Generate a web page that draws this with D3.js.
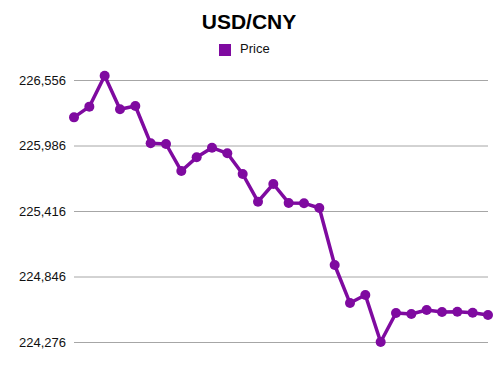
<!DOCTYPE html>
<html>
<head>
<meta charset="utf-8">
<script src="https://cdn.jsdelivr.net/npm/d3@7"></script>
<style>
  body { margin: 0; background: #fff; }
  svg { font-family: "Liberation Sans", Arial, sans-serif; }
</style>
</head>
<body>
<svg width="500" height="375"></svg>
<script>
// data
const days = d3.range(1, 29).map(String);
const price = [226231, 226324, 226593, 226301, 226330, 226005, 225999, 225764,
               225883, 225967, 225918, 225738, 225497, 225651, 225486, 225484,
               225442, 224946, 224615, 224685, 224276, 224528, 224520, 224554,
               224537, 224540, 224530, 224511];
const yTicks = [224276, 224846, 225416, 225986, 226556];

const color = "#7f0aa0";

const svg = d3.select("svg");

const x = d3.scalePoint()
    .domain(days)
    .range([74, 488]);

const y = d3.scaleLinear()
    .domain([224276, 226556])
    .range([342, 80]);

// gridlines + labels
const yAxis = svg.append("g")
    .attr("transform", "translate(74,0)")
    .call(d3.axisLeft(y).tickValues(yTicks).tickFormat(d3.format(",")).tickSize(-414).tickPadding(8));

yAxis.select(".domain").remove();
yAxis.selectAll(".tick line").attr("stroke", "#a6a6a6").attr("stroke-width", 1);
yAxis.selectAll(".tick text")
    .attr("fill", "#111")
    .style("font-size", "13px")
    .style("font-family", "'Liberation Sans', Arial, sans-serif");

const line = d3.line()
    .x((d, i) => x(days[i]))
    .y(d => y(d));

svg.append("path")
    .datum(price)
    .attr("fill", "none")
    .attr("stroke", color)
    .attr("stroke-width", 3.5)
    .attr("stroke-linejoin", "round")
    .attr("d", line);

svg.selectAll("circle.pt")
    .data(price)
    .enter()
    .append("circle")
    .attr("class", "pt")
    .attr("cx", (d, i) => x(days[i]))
    .attr("cy", d => y(d))
    .attr("r", 5)
    .attr("fill", color);

// title
svg.append("text")
    .attr("x", 249)
    .attr("y", 29)
    .style("text-anchor", "middle")
    .style("font-size", "21px")
    .style("font-weight", "bold")
    .text("USD/CNY");

// legend
svg.append("rect")
    .attr("x", 219)
    .attr("y", 44)
    .attr("width", 12)
    .attr("height", 12)
    .attr("fill", color);

svg.append("text")
    .attr("x", 240)
    .attr("y", 53)
    .style("font-size", "13px")
    .attr("fill", "#111")
    .text("Price");
</script>
</body>
</html>
